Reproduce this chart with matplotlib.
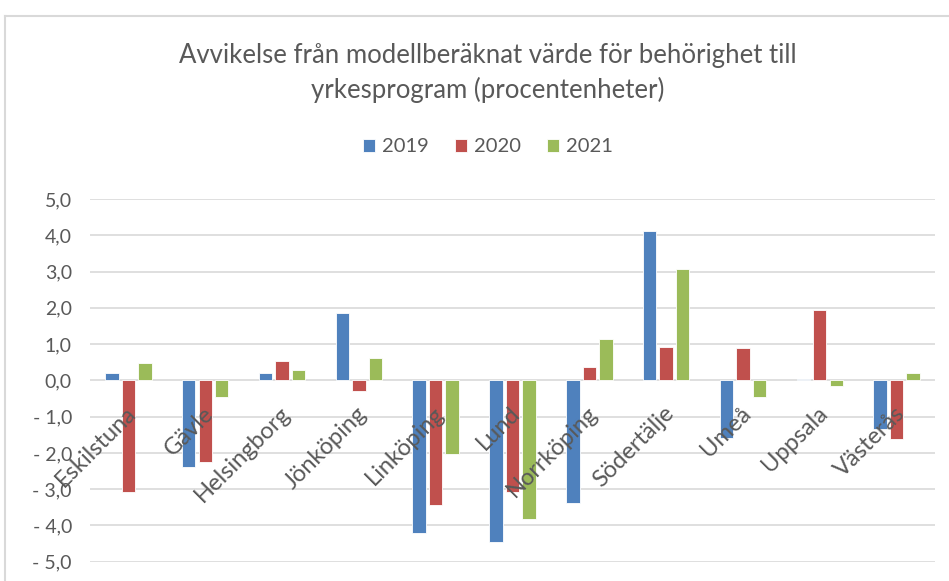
import numpy as np
import matplotlib
matplotlib.use('Agg')
import matplotlib.pyplot as plt
from matplotlib.lines import Line2D

plt.rcParams['font.family'] = ['Lato', 'DejaVu Sans']

cities = ['Eskilstuna', 'Gävle', 'Helsingborg', 'Jönköping', 'Linköping', 'Lund',
          'Norrköping', 'Södertälje', 'Umeå', 'Uppsala', 'Västerås']
v2019 = [0.19, -2.38, 0.19, 1.87, -4.22, -4.46, -3.39, 4.13, -1.60, 0.05, -1.33]
v2020 = [-3.09, -2.24, 0.54, -0.28, -3.44, -3.09, 0.36, 0.93, 0.89, 1.95, -1.61]
v2021 = [0.47, -0.45, 0.29, 0.61, -2.03, -3.82, 1.13, 3.07, -0.45, -0.16, 0.19]
years = ['2019', '2020', '2021']
colors = ['#4F81BD', '#C0504D', '#9BBB59']
yticks = [5, 4, 3, 2, 1, 0, -1, -2, -3, -4, -5]

fig = plt.figure(figsize=(9.49, 5.81), dpi=100)
ax = fig.add_axes([90/949, 19.3/581, 845/949, 362.7/581])

x = np.arange(len(cities))
for k, (vals, lab, col) in enumerate(zip([v2019, v2020, v2021], years, colors)):
    ax.bar(x + (k - 1) * 0.215, vals, width=0.175, color=col, label=lab,
           edgecolor='white', linewidth=0.6, zorder=3)

ax.set_xlim(-0.5, len(cities) - 0.5)
ax.set_ylim(-5, 5)
ax.set_yticks(yticks)
ax.set_yticklabels([f'{v:.1f}'.replace('.', ',') if v >= 0 else '- ' + f'{-v:.1f}'.replace('.', ',')
                    for v in yticks])
ax.tick_params(axis='y', length=0, pad=13, labelsize=14, labelcolor='#595959')
ax.set_xticks([])
ax.grid(axis='y', color='#D9D9D9', linewidth=1.2, zorder=0)
for s in ax.spines.values():
    s.set_visible(False)

for i, c in enumerate(cities):
    ax.annotate(c, (i, 0), xytext=(-2, -16), textcoords='offset points',
                rotation=45, ha='right', va='top', rotation_mode='anchor',
                fontsize=17, color='#595959', zorder=4)

fig.text(488/949, 1 - 73/581, 'Avvikelse från modellberäknat värde för behörighet till\nyrkesprogram (procentenheter)',
         ha='center', va='center', fontsize=18.5, color='#595959', linespacing=1.45)
fig.legend(loc='center', bbox_to_anchor=(488/949, 1 - 147/581), ncol=3, frameon=False,
           fontsize=14.5, handlelength=0.6, handleheight=0.6, handletextpad=0.35,
           columnspacing=1.3, labelcolor='#595959')

fig.add_artist(Line2D([5/949, 5/949], [0, 1 - 16/581], color='#D9D9D9', linewidth=1.5))
fig.add_artist(Line2D([5/949, 1], [1 - 16/581, 1 - 16/581], color='#D9D9D9', linewidth=1.5))

fig.savefig('out.png', dpi=100)
